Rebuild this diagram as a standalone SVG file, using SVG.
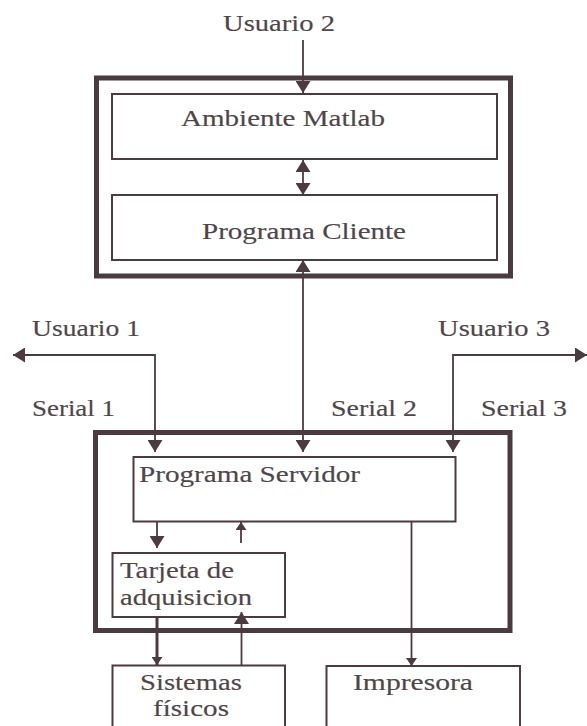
<svg xmlns="http://www.w3.org/2000/svg" width="587" height="726" viewBox="0 0 587 726">
<style>
  .bg { fill: #ffffff; }
  .outer { fill: none; stroke: #4b3a3f; stroke-width: 5; }
  .box { fill: #ffffff; stroke: #4b3a3f; stroke-width: 2; }
  .wire { fill: none; stroke: #4b3a3f; stroke-width: 1.8; }
  .thick { stroke-width: 3; }
  .t { font-family: "Liberation Serif", "Times New Roman", serif; font-size: 23px; fill: #4e4649; stroke: #4e4649; stroke-width: 0.15; }
</style>
<defs>
  <marker id="ah" viewBox="0 0 12 15" refX="12" refY="7.5" markerWidth="12" markerHeight="15" markerUnits="userSpaceOnUse" orient="auto-start-reverse">
    <path d="M0,0 L12,7.5 L0,15 z" fill="#4b3a3f"/>
  </marker>
  <marker id="ahs" viewBox="0 0 8 11" refX="8" refY="5.5" markerWidth="8" markerHeight="11" markerUnits="userSpaceOnUse" orient="auto-start-reverse">
    <path d="M0,0 L8,5.5 L0,11 z" fill="#4b3a3f"/>
  </marker>
</defs>
<rect class="bg" x="0" y="0" width="587" height="726"/>

<g id="cliente-host">
  <rect class="outer" x="96.5" y="78" width="414" height="198"/>
</g>
<g id="ambiente-matlab">
  <rect class="box" x="112" y="94" width="385" height="65"/>
  <text class="t" x="181" y="126" textLength="204" lengthAdjust="spacingAndGlyphs">Ambiente Matlab</text>
</g>
<g id="programa-cliente">
  <rect class="box" x="112" y="195" width="385" height="65"/>
  <text class="t" x="202" y="239" textLength="204" lengthAdjust="spacingAndGlyphs">Programa Cliente</text>
</g>
<g id="servidor-host">
  <rect class="outer" x="95.5" y="432.5" width="414.5" height="198"/>
</g>
<g id="programa-servidor">
  <rect class="box" x="133.5" y="457" width="322" height="64.5"/>
  <text class="t" x="139" y="482" textLength="221" lengthAdjust="spacingAndGlyphs">Programa Servidor</text>
</g>
<g id="tarjeta">
  <rect class="box" x="112.5" y="553" width="172.5" height="64"/>
  <text class="t" x="120" y="578" textLength="114" lengthAdjust="spacingAndGlyphs">Tarjeta de</text>
  <text class="t" x="120" y="605" textLength="132" lengthAdjust="spacingAndGlyphs">adquisicion</text>
</g>
<g id="sistemas">
  <rect class="box" x="112.5" y="665.5" width="172.5" height="75"/>
  <text class="t" x="140" y="690" textLength="102" lengthAdjust="spacingAndGlyphs">Sistemas</text>
  <text class="t" x="153" y="716" textLength="76" lengthAdjust="spacingAndGlyphs">físicos</text>
</g>
<g id="impresora">
  <rect class="box" x="326.5" y="666" width="193.5" height="75"/>
  <text class="t" x="353" y="690" textLength="120" lengthAdjust="spacingAndGlyphs">Impresora</text>
</g>
<g id="usuario2">
  <text class="t" x="223" y="31" textLength="112" lengthAdjust="spacingAndGlyphs">Usuario 2</text>
</g>
<g id="usuario1">
  <text class="t" x="32" y="336" textLength="108" lengthAdjust="spacingAndGlyphs">Usuario 1</text>
</g>
<g id="usuario3">
  <text class="t" x="438" y="336" textLength="112" lengthAdjust="spacingAndGlyphs">Usuario 3</text>
</g>
<g id="serial-labels">
  <text class="t" x="32" y="416" textLength="83" lengthAdjust="spacingAndGlyphs">Serial 1</text>
  <text class="t" x="331" y="416" textLength="86" lengthAdjust="spacingAndGlyphs">Serial 2</text>
  <text class="t" x="481" y="416" textLength="86" lengthAdjust="spacingAndGlyphs">Serial 3</text>
</g>

<g id="connectors">
  <line class="wire" x1="303" y1="40" x2="303" y2="93" marker-end="url(#ah)"/>
  <line class="wire" x1="303" y1="160" x2="303" y2="195" marker-start="url(#ah)" marker-end="url(#ah)"/>
  <line class="wire" x1="303" y1="260" x2="303" y2="452" marker-start="url(#ah)" marker-end="url(#ah)"/>
  <polyline class="wire" points="155,452 155,355 13,355" marker-start="url(#ah)" marker-end="url(#ah)"/>
  <polyline class="wire" points="453,452 453,355 587,355" marker-start="url(#ah)" marker-end="url(#ah)"/>
  <line class="wire" x1="157" y1="521.5" x2="157" y2="548" marker-end="url(#ah)"/>
  <line class="wire" x1="241" y1="543" x2="241" y2="522" marker-end="url(#ahs)"/>
  <line class="wire thick" x1="157" y1="617" x2="157" y2="665" marker-end="url(#ahs)"/>
  <line class="wire" x1="241.5" y1="665" x2="241.5" y2="612" marker-end="url(#ah)"/>
  <line class="wire" x1="411.5" y1="521.5" x2="411.5" y2="666" marker-end="url(#ahs)"/>
</g>
</svg>
